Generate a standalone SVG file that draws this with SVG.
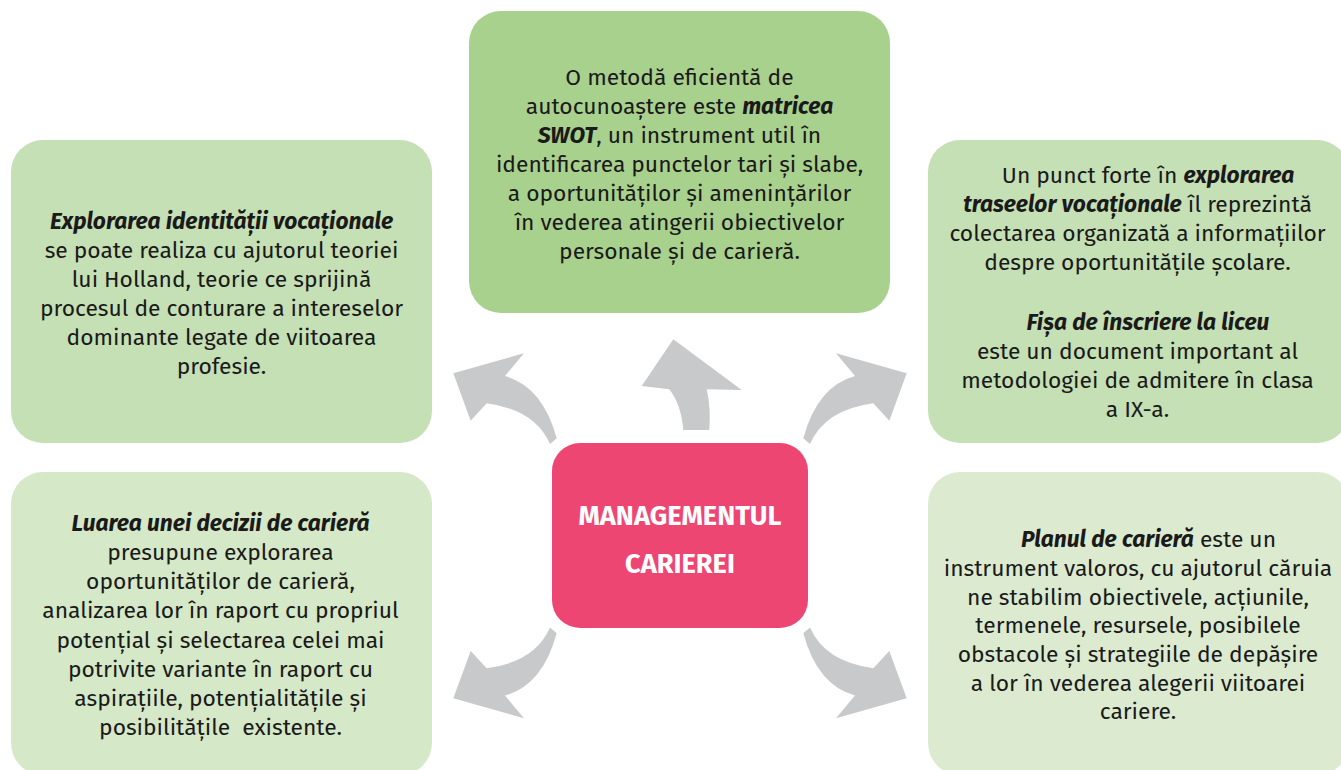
<svg xmlns="http://www.w3.org/2000/svg" width="1341" height="770" viewBox="0 0 1341 770">
<style>
.t{font-family:"Fira Sans","Noto Sans","Open Sans",sans-serif;font-size:22.8px;fill:#1a1a1a;text-anchor:middle}
.b{font-weight:bold;font-style:italic}
.c{font-family:"Fira Sans","Noto Sans","Open Sans",sans-serif;font-size:27.2px;font-weight:bold;fill:#ffffff;text-anchor:middle}
.arr{fill:#c8c9cb}
</style>
<defs>
<path id="curv" d="M556.7,438.3 Q542.5,386.2 505,376 L524,353.3 L453.3,373.3 L470.7,420.7 L486.7,403.3 Q535,409.7 550,444 Z"/>
</defs>
<rect width="1341" height="770" fill="#ffffff"/>
<g id="connectors">
<use href="#curv" class="arr"/>
<use href="#curv" class="arr" transform="translate(1360,0) scale(-1,1)"/>
<use href="#curv" class="arr" transform="translate(0,1071.6) scale(1,-1)"/>
<use href="#curv" class="arr" transform="translate(1360,1071.6) scale(-1,-1)"/>
<path class="arr" d="M683.3,430 Q681,404 669.3,389.3 L641.7,386 L673.3,339.3 L741.7,390 L706.7,389.3 Q711,408 709.3,430 Z"/>
</g>
<g id="node-top">
<rect x="469" y="11" width="421" height="302" rx="32" fill="#a9d18e"/>
<text class="t"><tspan x="679.5" y="85">O metodă eficientă de</tspan><tspan x="679.5" y="114">autocunoaștere este <tspan class="b">matricea</tspan></tspan><tspan x="679.5" y="143"><tspan class="b">SWOT</tspan>, un instrument util în</tspan><tspan x="679.5" y="172">identificarea punctelor tari și slabe,</tspan><tspan x="679.5" y="201">a oportunităților și amenințărilor</tspan><tspan x="679.5" y="230">în vederea atingerii obiectivelor</tspan><tspan x="679.5" y="259">personale și de carieră.</tspan></text>
</g>
<g id="node-left-top">
<rect x="11" y="140" width="421" height="303" rx="32" fill="#c5e0b4"/>
<text class="t"><tspan x="221.5" y="229.3" class="b">Explorarea identității vocaționale</tspan><tspan x="221.5" y="258.2">se poate realiza cu ajutorul teoriei</tspan><tspan x="221.5" y="287.1">lui Holland, teorie ce sprijină</tspan><tspan x="221.5" y="316">procesul de conturare a intereselor</tspan><tspan x="221.5" y="344.9">dominante legate de viitoarea</tspan><tspan x="221.5" y="373.8">profesie.</tspan></text>
</g>
<g id="node-right-top">
<rect x="928" y="140" width="421" height="303" rx="32" fill="#c5e0b4"/>
<text class="t"><tspan x="1148" y="183.3">Un punct forte în <tspan class="b">explorarea</tspan></tspan><tspan x="1137.5" y="212"><tspan class="b">traseelor vocaționale</tspan> îl reprezintă</tspan><tspan x="1137.5" y="241">colectarea organizată a informațiilor</tspan><tspan x="1137.5" y="270">despre oportunitățile școlare.</tspan><tspan x="1148" y="330" class="b">Fișa de înscriere la liceu</tspan><tspan x="1137.5" y="359">este un document important al</tspan><tspan x="1137.5" y="388">metodologiei de admitere în clasa</tspan><tspan x="1137.5" y="417">a IX-a.</tspan></text>
</g>
<g id="node-left-bottom">
<rect x="11" y="472" width="421" height="303" rx="32" fill="#d5e8c7"/>
<text class="t"><tspan x="220.5" y="530.7" class="b">Luarea unei decizii de carieră</tspan><tspan x="220.5" y="560">presupune explorarea</tspan><tspan x="220.5" y="589">oportunităților de carieră,</tspan><tspan x="220.5" y="618.2">analizarea lor în raport cu propriul</tspan><tspan x="220.5" y="647.5">potențial și selectarea celei mai</tspan><tspan x="220.5" y="676.7">potrivite variante în raport cu</tspan><tspan x="220.5" y="706">aspirațiile, potențialitățile și</tspan><tspan x="220.5" y="735" xml:space="preserve">posibilitățile  existente.</tspan></text>
</g>
<g id="node-right-bottom">
<rect x="928" y="472" width="421" height="303" rx="32" fill="#dcebd0"/>
<text class="t"><tspan x="1148.5" y="547.3"><tspan class="b">Planul de carieră</tspan> este un</tspan><tspan x="1138" y="576">instrument valoros, cu ajutorul căruia</tspan><tspan x="1138" y="604.6">ne stabilim obiectivele, acțiunile,</tspan><tspan x="1138" y="633.3">termenele, resursele, posibilele</tspan><tspan x="1138" y="662">obstacole și strategiile de depășire</tspan><tspan x="1138" y="690.7">a lor în vederea alegerii viitoarei</tspan><tspan x="1138" y="719.3">cariere.</tspan></text>
</g>
<g id="node-center">
<rect x="552" y="443" width="256" height="185" rx="28" fill="#ee4672"/>
<text class="c"><tspan x="680" y="525">MANAGEMENTUL</tspan><tspan x="680" y="573.3">CARIEREI</tspan></text>
</g>
</svg>
